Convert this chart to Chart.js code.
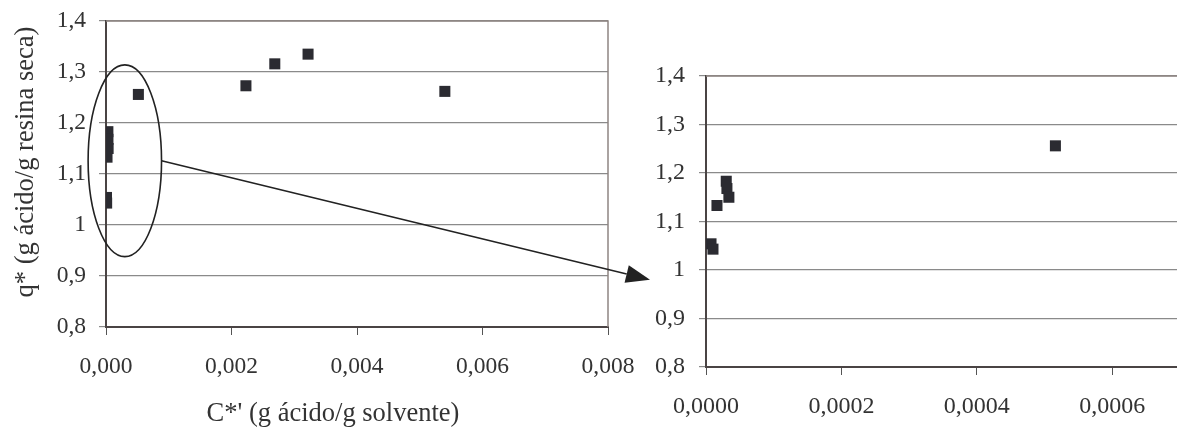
<!DOCTYPE html>
<html><head><meta charset="utf-8">
<script src="https://cdn.jsdelivr.net/npm/chart.js@4/dist/chart.umd.min.js"></script>
<style>
html,body{margin:0;padding:0;background:#fff;overflow:hidden;width:1177px;height:435px;}
#wrapL{position:absolute;left:0;top:0;width:640px;height:435px;}
#wrapR{position:absolute;left:640px;top:0;width:560px;height:435px;}
#ov{position:absolute;left:0;top:0;pointer-events:none;}
</style></head><body>
<div id="wrapL"><canvas id="cL"></canvas></div>
<div id="wrapR"><canvas id="cR"></canvas></div>
<canvas id="ov" width="1177" height="435"></canvas>
<script>
// Data: C*' (g ácido/g solvente) vs q* (g ácido/g resina seca)
const cValues = [0.0000074, 0.0000103, 0.0000162, 0.0000299, 0.0000309, 0.0000338, 0.000516, 0.00223, 0.00269, 0.00322, 0.0054];
const qValues = [1.054, 1.043, 1.133, 1.183, 1.168, 1.150, 1.256, 1.273, 1.316, 1.335, 1.262];
const yTickValues = [0.8, 0.9, 1.0, 1.1, 1.2, 1.3, 1.4];
const yTickLabels = ['0,8', '0,9', '1', '1,1', '1,2', '1,3', '1,4'];
const xTickValuesL = [0, 0.002, 0.004, 0.006, 0.008];
const xTickLabelsL = ['0,000', '0,002', '0,004', '0,006', '0,008'];
const xTickValuesR = [0, 0.0002, 0.0004, 0.0006];
const xTickLabelsR = ['0,0000', '0,0002', '0,0004', '0,0006'];
const xTitle = "C*' (g ácido/g solvente)";
const yTitle = "q* (g ácido/g resina seca)";

const pts = cValues.map((c, i) => ({x: c, y: qValues[i]}));
const FONT = "'Liberation Serif', 'Times New Roman', serif";
const TXT = '#333';

function labelFor(values, labels) {
  return (v) => { const i = values.findIndex(t => Math.abs(t - v) < 1e-9); return i >= 0 ? labels[i] : ''; };
}

const borderPlugin = {
  id: 'borders',
  beforeDatasetsDraw(chart) {
    const a = chart.chartArea, ctx = chart.ctx;
    ctx.save();
    ctx.strokeStyle = '#8f8582';
    ctx.lineWidth = 1.5;
    ctx.beginPath();
    ctx.moveTo(a.left, a.top); ctx.lineTo(a.right, a.top); ctx.lineTo(a.right, a.bottom);
    ctx.stroke();
    ctx.restore();
  }
};

const titlePlugin = {
  id: 'titles',
  afterDraw(chart, args, o) {
    if (!o.show) return;
    const ctx = chart.ctx;
    ctx.save();
    ctx.fillStyle = TXT;
    ctx.textAlign = 'center';
    ctx.textBaseline = 'middle';
    ctx.font = '26.5px ' + FONT;
    ctx.fillText(xTitle, 333, 414);
    ctx.translate(26, 162);
    ctx.rotate(-Math.PI / 2);
    ctx.fillText(yTitle, 0, 0);
    ctx.restore();
  }
};

function zeroPad(s) { s.paddingLeft = 0; s.paddingRight = 0; s.paddingTop = 0; s.paddingBottom = 0; }

function makeChart(id, xMax, xVals, xLabs, opts) {
  return new Chart(document.getElementById(id), {
    type: 'scatter',
    data: {datasets: [{data: pts, pointStyle: 'rect', pointRadius: 7.8, pointHoverRadius: 7.8,
      backgroundColor: '#2b2b31', borderColor: '#2b2b31', borderWidth: 0}]},
    options: {
      responsive: true, maintainAspectRatio: false, animation: false,
      events: [],
      layout: {padding: opts.padding},
      plugins: {legend: {display: false}, tooltip: {enabled: false}, titles: {show: opts.titles}},
      scales: {
        x: {
          type: 'linear', min: 0, max: xMax,
          afterBuildTicks: (s) => { s.ticks = xVals.map(v => ({value: v})); },
          afterFit: (s) => { s.height = opts.xh; zeroPad(s); },
          ticks: {callback: labelFor(xVals, xLabs), color: TXT, font: {family: FONT, size: opts.fs}, padding: opts.xpad, maxRotation: 0, autoSkip: false},
          grid: {drawOnChartArea: false, drawTicks: true, tickLength: 8, color: '#555', lineWidth: 1},
          border: {color: '#4a4444', width: 2}
        },
        y: {
          type: 'linear', min: 0.8, max: 1.4,
          afterBuildTicks: (s) => { s.ticks = yTickValues.map(v => ({value: v})); },
          afterFit: (s) => { s.width = opts.yw; zeroPad(s); },
          ticks: {callback: labelFor(yTickValues, yTickLabels), color: TXT, font: {family: FONT, size: opts.fs}, padding: opts.ypad},
          grid: {color: '#8a8a8a', lineWidth: 1.2, tickLength: 7, drawTicks: true},
          border: {color: '#4a4444', width: 2}
        }
      }
    },
    plugins: [borderPlugin, titlePlugin]
  });
}

const left = makeChart('cL', 0.008, xTickValuesL, xTickLabelsL,
  {padding: {top: 21, right: 32, left: 6, bottom: 0}, xh: 108, yw: 100, titles: true, fs: 23.5, xpad: 18, ypad: 13});
const right = makeChart('cR', 0.0007, xTickValuesR, xTickLabelsR,
  {padding: {top: 76, right: 20, left: 0, bottom: 0}, xh: 68, yw: 66, titles: false, fs: 24, xpad: 17, ypad: 14});

function drawOverlay() {
  const ov = document.getElementById('ov').getContext('2d');
  ov.clearRect(0, 0, 1177, 435);
  const xs = left.scales.x, ys = left.scales.y;
  // ellipse around the cluster near zero (in left chart data units)
  const cx = xs.getPixelForValue(0.0003), cy = ys.getPixelForValue(1.126);
  const rx = xs.getPixelForValue(0.0003 + 0.000585) - cx;
  const ry = ys.getPixelForValue(1.126) - ys.getPixelForValue(1.126 + 0.188);
  ov.strokeStyle = '#222';
  ov.lineWidth = 1.6;
  ov.beginPath();
  ov.ellipse(cx, cy, rx, ry, 0, 0, Math.PI * 2);
  ov.stroke();
  // arrow to the zoomed chart
  const rOff = document.getElementById('wrapR').offsetLeft;
  const x0 = cx + rx, y0 = cy;
  const x1 = rOff + right.chartArea.left - 56, y1 = right.scales.y.getPixelForValue(0.98);
  const ang = Math.atan2(y1 - y0, x1 - x0);
  const L = 24, W = 9;
  const bx = x1 - L * Math.cos(ang), by = y1 - L * Math.sin(ang);
  ov.beginPath();
  ov.moveTo(x0, y0); ov.lineTo(bx, by); ov.stroke();
  ov.fillStyle = '#222';
  ov.beginPath();
  ov.moveTo(x1, y1);
  ov.lineTo(bx - W * Math.sin(ang), by + W * Math.cos(ang));
  ov.lineTo(bx + W * Math.sin(ang), by - W * Math.cos(ang));
  ov.closePath(); ov.fill();
}
drawOverlay();
</script>
</body></html>
